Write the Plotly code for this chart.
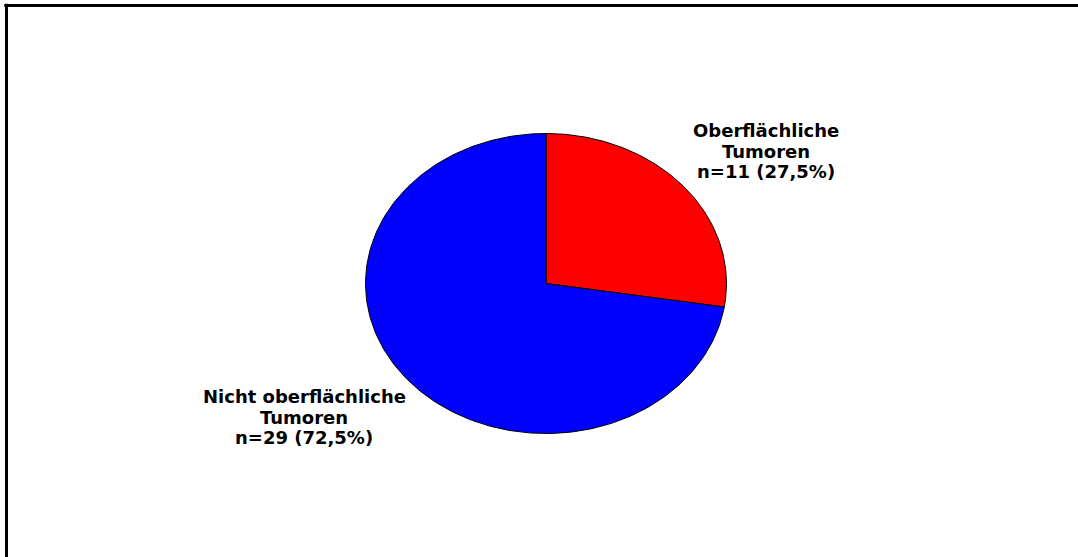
import numpy as np
import plotly.graph_objects as go

# Tumour categories and patient counts
categories = ["Oberflächliche Tumoren", "Nicht oberflächliche Tumoren"]
label_lines = [["Oberflächliche", "Tumoren"], ["Nicht oberflächliche", "Tumoren"]]
counts = [11, 29]
colors = ["#FF0000", "#0000FF"]

W, H = 1078, 557
CX, CY = 546, 283.5      # pie centre in pixels (from top-left)
RX, RY = 180.5, 150.0    # horizontal / vertical pixel radius (tilted look)


def px_to_paper(x, y):
    return x / W, 1 - y / H


total = sum(counts)
fig = go.Figure()

# Slices: start at 12 o'clock and run clockwise
start = 0.0
for cat, n, col in zip(categories, counts, colors):
    span = 2 * np.pi * n / total
    theta = np.linspace(start, start + span, 200)
    xs = np.concatenate([[0], np.sin(theta), [0]])
    ys = np.concatenate([[0], np.cos(theta), [0]])
    fig.add_trace(go.Scatter(
        x=xs, y=ys, mode="lines", fill="toself", fillcolor=col,
        line=dict(color="black", width=1), name=cat,
        hoverinfo="name",
    ))
    start += span

# Labels (one annotation per line for tight line spacing)
label_pos = [(766, 130.5), (304, 396.5)]
pitch = 20.5
for lines, n, (lx, ly) in zip(label_lines, counts, label_pos):
    pct = f"{100 * n / total:.1f}".replace(".", ",")
    all_lines = lines + [f"n={n} ({pct}%)"]
    for i, txt in enumerate(all_lines):
        ax, ay = px_to_paper(lx, ly + i * pitch)
        fig.add_annotation(
            x=ax, y=ay, xref="paper", yref="paper", text=f"<b>{txt}</b>",
            showarrow=False, xanchor="center", yanchor="middle",
            font=dict(family="DejaVu Sans", size=18, color="black"),
        )

# Frame: top and left edges
fx, fy = px_to_paper(6.5, 5.5)
fig.add_shape(type="line", xref="paper", yref="paper", x0=fx - 0.002, x1=1.0,
              y0=fy, y1=fy, line=dict(color="black", width=3))
fig.add_shape(type="line", xref="paper", yref="paper", x0=fx, x1=fx,
              y0=0, y1=fy + 0.003, line=dict(color="black", width=3))

fig.update_layout(
    width=W, height=H,
    margin=dict(l=0, r=0, t=0, b=0),
    paper_bgcolor="white", plot_bgcolor="white",
    showlegend=False,
    xaxis=dict(range=[-CX / RX, (W - CX) / RX], visible=False, fixedrange=True),
    yaxis=dict(range=[-(H - CY) / RY, CY / RY], visible=False, fixedrange=True),
)

fig.write_html("out.html")
